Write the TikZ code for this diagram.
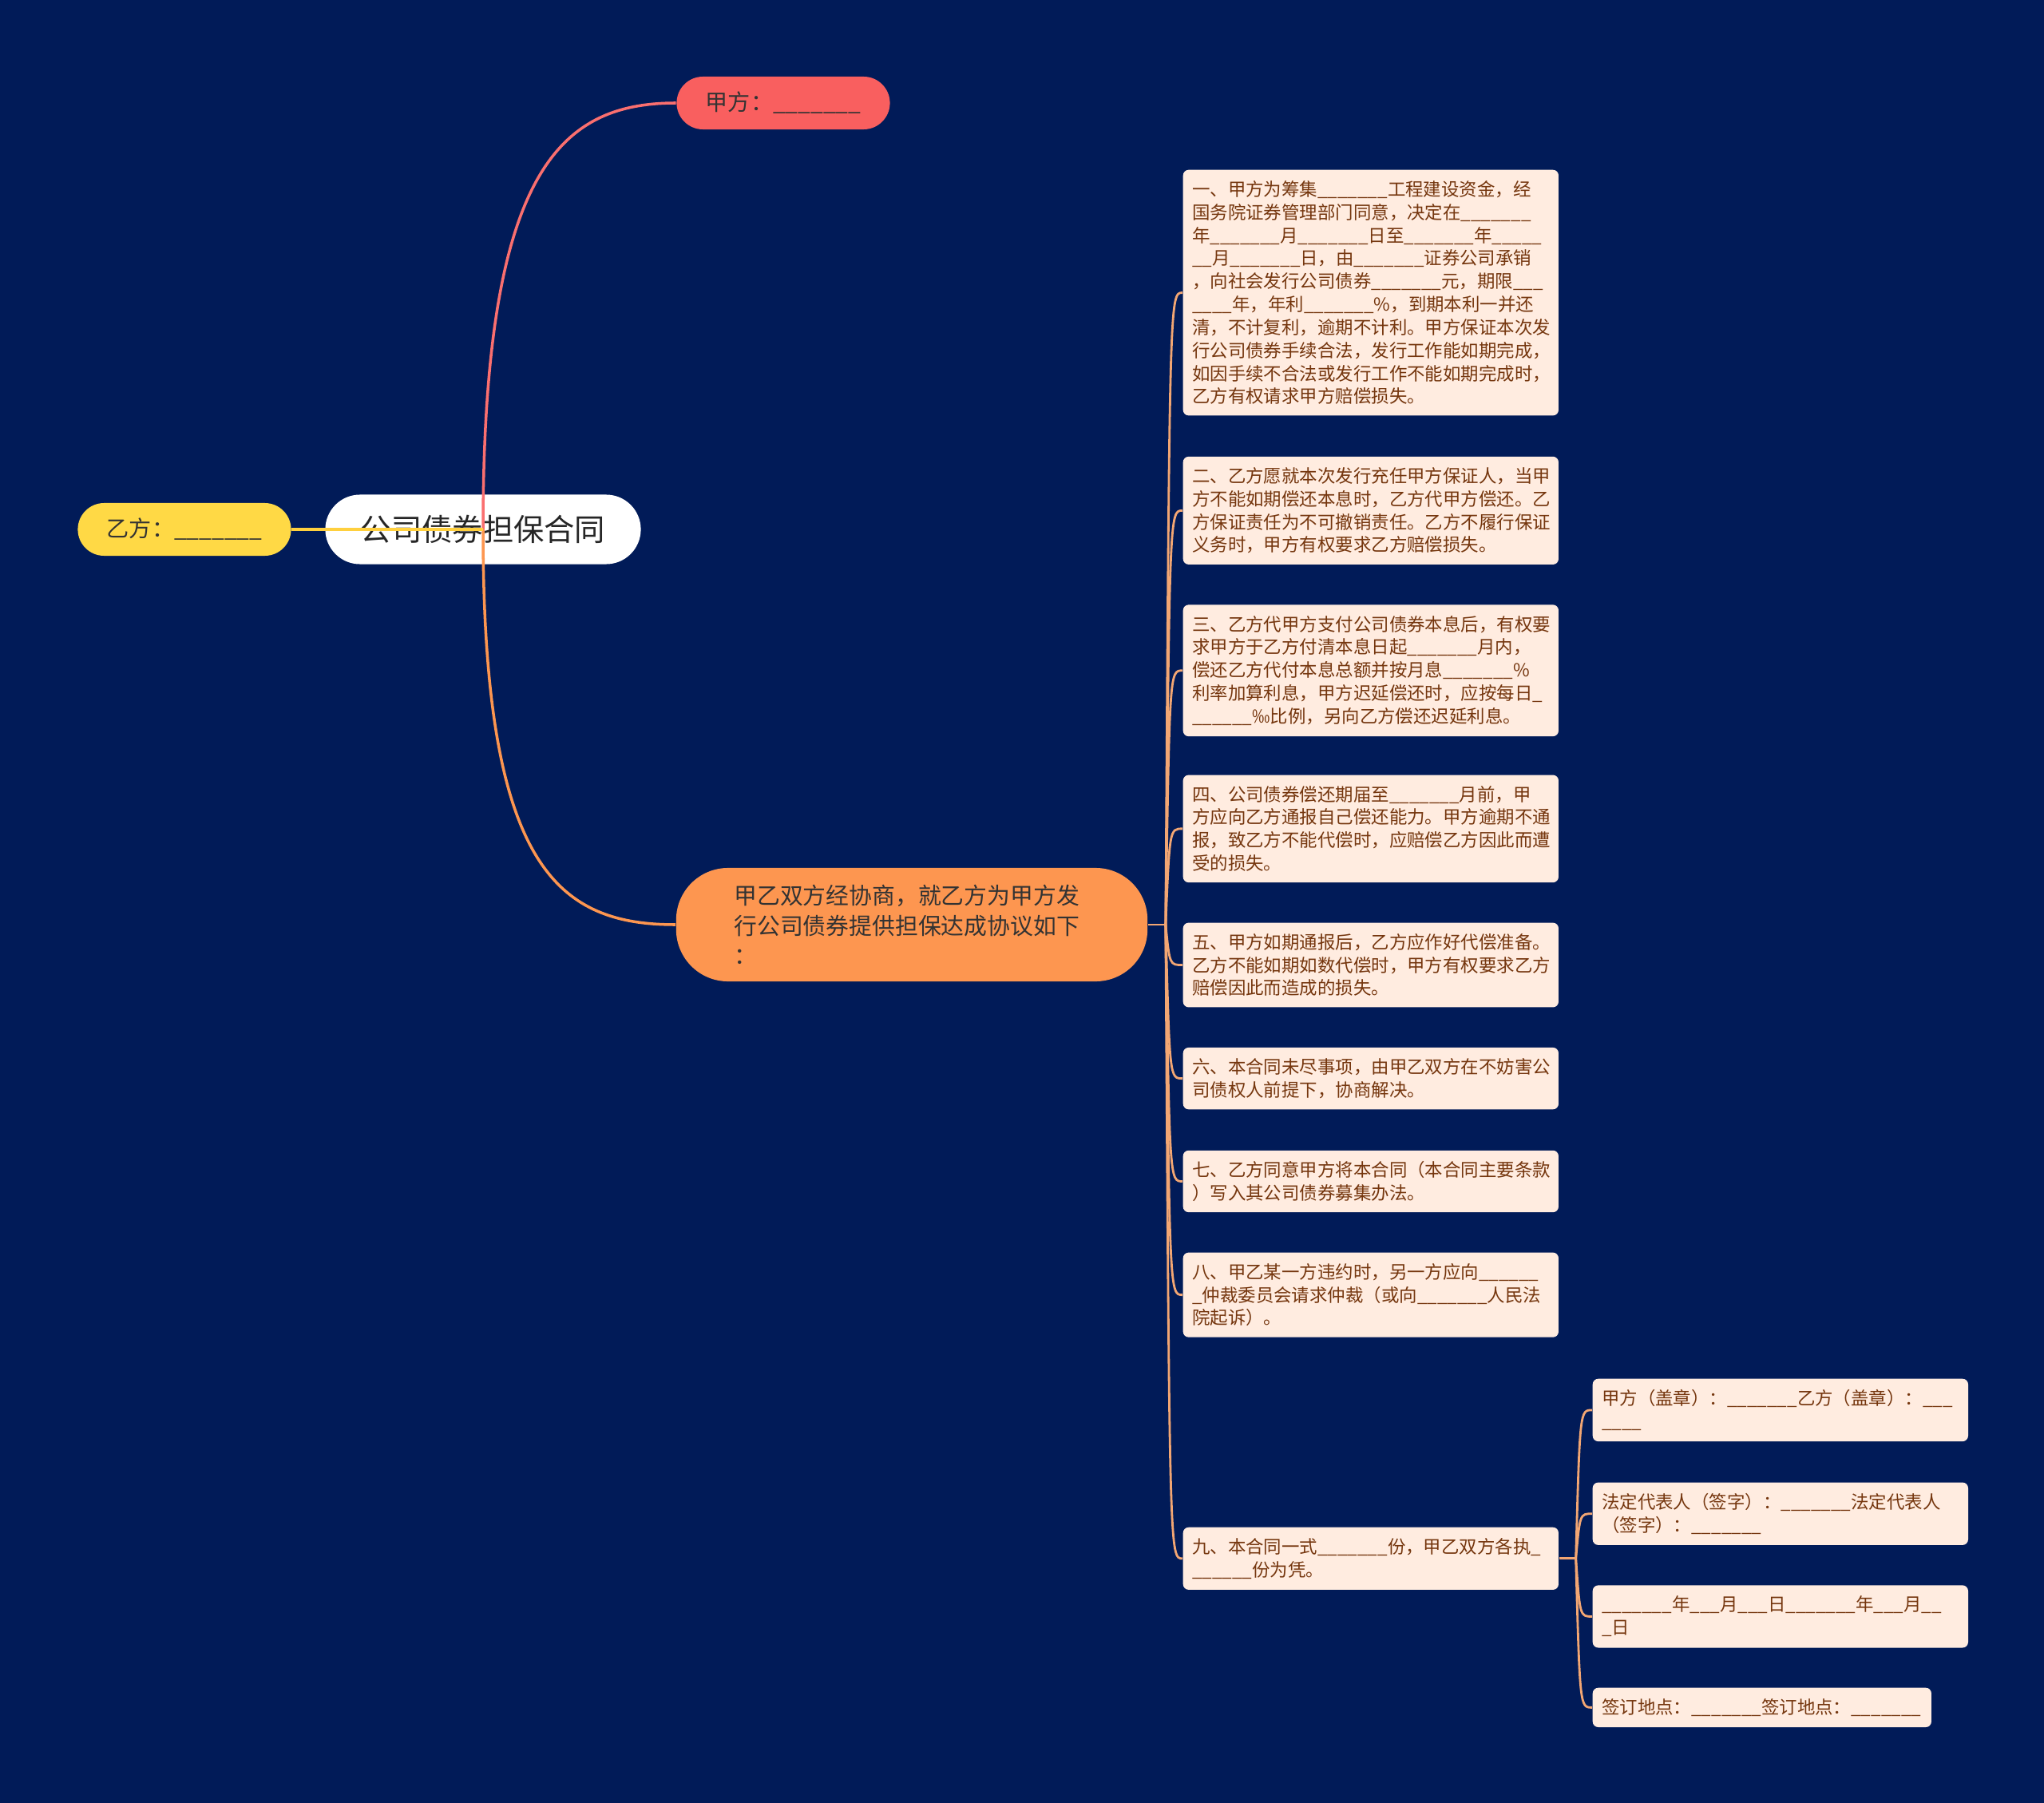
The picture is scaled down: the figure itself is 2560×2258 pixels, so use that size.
\documentclass[tikz,border=0pt]{standalone}
\usepackage{fontspec}
\newfontfamily\cjk{Noto Sans CJK SC}
\usepackage{tikz}
\usetikzlibrary{positioning, calc}

\definecolor{bgnavy}{HTML}{011B58}
\definecolor{clausefill}{HTML}{FFECE0}
\definecolor{clausetext}{HTML}{75360E}
\definecolor{branchline}{HTML}{F2A673}
\definecolor{jiared}{HTML}{F95F5F}
\definecolor{yiyellow}{HTML}{FFD945}
\definecolor{introorange}{HTML}{FD9650}
\newcommand{\fillblank}{\_\_\_\_\_\_\_}

\begin{document}
\begin{tikzpicture}[x=0.01cm, y=-0.01cm,
    every node/.style={font=\cjk, inner sep=0pt},
    rootnode/.style={fill=white, text=black!85, minimum width=3.95cm, minimum height=0.87cm,
      rounded corners=0.435cm, font=\cjk\fontsize{10.9pt}{13pt}\selectfont},
    sidenode/.style={text=black!80, minimum width=2.67cm, minimum height=0.66cm,
      rounded corners=0.33cm, font=\cjk\fontsize{8pt}{10pt}\selectfont},
    intronode/.style={fill=introorange, text=black!80, minimum width=5.9cm, minimum height=1.42cm,
      rounded corners=0.65cm, align=left, text width=4.45cm,
      font=\cjk\fontsize{8.2pt}{10.7pt}\selectfont},
    clause/.style={fill=clausefill, text=clausetext, rounded corners=2pt, align=left,
      text width=4.47cm, inner xsep=0.115cm, inner ysep=0.136cm,
      font=\cjk\fontsize{6.38pt}{8.2pt}\selectfont},
    branch/.style={draw=branchline, line width=0.8pt},
    mainline/.style={line width=1pt}
  ]
  % 背景
  \fill[bgnavy] (0,0) rectangle (2560,2258);

  % 中心与二级节点
  \node[rootnode] (root) at (605,663) {公司债券担保合同};
  \node[sidenode, fill=yiyellow] (yi) at (231,663) {乙方：\fillblank};
  \node[sidenode, fill=jiared] (jia) at (981,129) {甲方：\fillblank};
  \node[intronode] (intro) at (1142,1158) {甲乙双方经协商，就乙方为甲方发\\行公司债券提供担保达成协议如下\\：};

  % 条款
  \node[clause, anchor=north west] (c1) at (1481,212) {一、甲方为筹集\fillblank 工程建设资金，经\\国务院证券管理部门同意，决定在\fillblank\\年\fillblank 月\fillblank 日至\fillblank 年\_\_\_\_\_\\\_\_月\fillblank 日，由\fillblank 证券公司承销\\，向社会发行公司债券\fillblank 元，期限\_\_\_\\\_\_\_\_年，年利\fillblank\%，到期本利一并还\\清，不计复利，逾期不计利。甲方保证本次发\\行公司债券手续合法，发行工作能如期完成，\\如因手续不合法或发行工作不能如期完成时，\\乙方有权请求甲方赔偿损失。};
  \node[clause, below=0.5cm of c1] (c2) {二、乙方愿就本次发行充任甲方保证人，当甲\\方不能如期偿还本息时，乙方代甲方偿还。乙\\方保证责任为不可撤销责任。乙方不履行保证\\义务时，甲方有权要求乙方赔偿损失。};
  \node[clause, below=0.49cm of c2] (c3) {三、乙方代甲方支付公司债券本息后，有权要\\求甲方于乙方付清本息日起\fillblank 月内，\\偿还乙方代付本息总额并按月息\fillblank\%\\利率加算利息，甲方迟延偿还时，应按每日\_\\\_\_\_\_\_\_‰比例，另向乙方偿还迟延利息。};
  \node[clause, below=0.47cm of c3] (c4) {四、公司债券偿还期届至\fillblank 月前，甲\\方应向乙方通报自己偿还能力。甲方逾期不通\\报，致乙方不能代偿时，应赔偿乙方因此而遭\\受的损失。};
  \node[clause, below=0.49cm of c4] (c5) {五、甲方如期通报后，乙方应作好代偿准备。\\乙方不能如期如数代偿时，甲方有权要求乙方\\赔偿因此而造成的损失。};
  \node[clause, below=0.49cm of c5] (c6) {六、本合同未尽事项，由甲乙双方在不妨害公\\司债权人前提下，协商解决。};
  \node[clause, below=0.5cm of c6] (c7) {七、乙方同意甲方将本合同（本合同主要条款\\）写入其公司债券募集办法。};
  \node[clause, below=0.49cm of c7] (c8) {八、甲乙某一方违约时，另一方应向\_\_\_\_\_\_\\\_仲裁委员会请求仲裁（或向\fillblank 人民法\\院起诉）。};
  \node[clause, anchor=north west] (c9) at (1481,1912) {九、本合同一式\fillblank 份，甲乙双方各执\_\\\_\_\_\_\_\_份为凭。};

  % 签署栏
  \node[clause, anchor=north west] (s1) at (1994,1726) {甲方（盖章）：\fillblank 乙方（盖章）：\_\_\_\\\_\_\_\_};
  \node[clause, below=0.5cm of s1] (s2) {法定代表人（签字）：\fillblank 法定代表人\\（签字）：\fillblank};
  \node[clause, below=0.49cm of s2] (s3) {\fillblank 年\_\_\_月\_\_\_日\fillblank 年\_\_\_月\_\_\\\_日};
  \node[clause, text width=4.01cm, anchor=north west] (s4) at (1994,2113) {签订地点：\fillblank 签订地点：\fillblank};

  % 连线
  \draw[mainline, jiared!90] (root.center) .. controls +(0,-450) and +(-145,0) .. (jia.west);
  \draw[mainline, introorange] (root.center) .. controls +(0,420) and +(-150,0) .. (intro.west);
  \draw[mainline, yiyellow!90!orange] (root.center) -- (yi.east);

  \coordinate (hubA) at ($(intro.east)+(22,0)$);
  \coordinate (hubB) at ($(c9.east)+(21,0)$);
  \draw[branch] (intro.east) -- (hubA);
  \foreach \i in {1,...,9}
    \draw[branch] (hubA) .. controls ($(hubA |- c\i.west)+(5,0)$) .. (c\i.west);
  \draw[branch] (c9.east) -- (hubB);
  \foreach \i in {1,...,4}
    \draw[branch] (hubB) .. controls ($(hubB |- s\i.west)+(5,0)$) .. (s\i.west);
\end{tikzpicture}
\end{document}
